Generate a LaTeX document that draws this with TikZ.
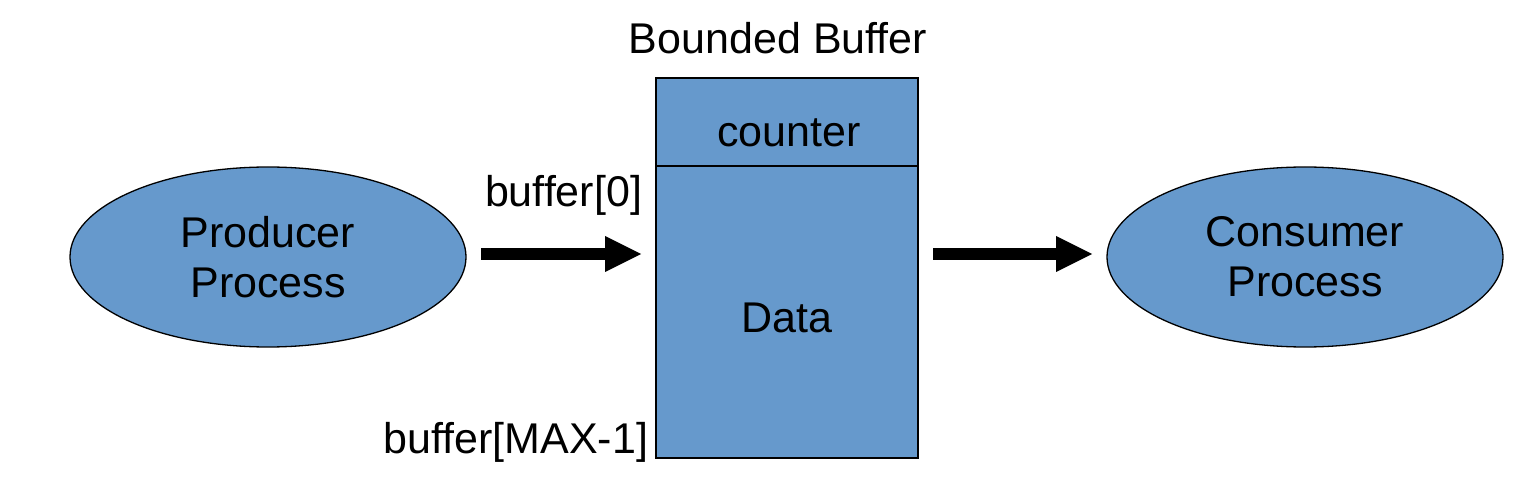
\documentclass[tikz,border=0pt]{standalone}
\usepackage{fontspec}
\setmainfont{Liberation Sans}
\usetikzlibrary{arrows.meta,shapes.geometric}
\definecolor{boxblue}{HTML}{6699CC}
\begin{document}
\begin{tikzpicture}[x=1pt,y=-1pt,
  every node/.style={font=\fontsize{43}{50}\selectfont, inner sep=0pt, outer sep=0pt},
  proc/.style={ellipse, draw=black, line width=1.3pt, fill=boxblue, minimum width=396pt, minimum height=180pt, align=center},
  part/.style={rectangle, draw=black, line width=1.3pt, fill=boxblue, minimum width=262pt},
  lbl/.style={anchor=base},
  bigarrow/.style={line width=12pt, -{Triangle[line width=0pt,length=36pt,width=36pt]}}
]
\useasboundingbox (0,0) rectangle (1524,486);
\node[proc] (prod) at (268,257) {Producer\\Process};
\node[proc] (cons) at (1305,257) {Consumer\\Process};
\node[part, minimum height=88pt] (cnt) at (787,122) {};
\node[part, minimum height=292pt] (buf) at (787,312) {};
\node[lbl] (title) at (778,54) {Bounded Buffer};
\node[lbl] (cntlabel) at (789,147) {counter};
\node[lbl] (datalabel) at (787,333) {Data};
\node[lbl, anchor=base east] (b0) at (642,207) {buffer[0]};
\node[lbl, anchor=base east] (bmax) at (648,453) {buffer[MAX-1]};
\coordinate (a1s) at ([xshift=15pt,yshift=3pt]prod.east);
\coordinate (a2s) at ([xshift=15pt]a1s -| buf.east);
\draw[bigarrow, shorten >=15pt] (a1s) -- (a1s -| buf.west);
\draw[bigarrow, shorten >=15pt] (a2s) -- (a2s -| cons.west);
\end{tikzpicture}
\end{document}
